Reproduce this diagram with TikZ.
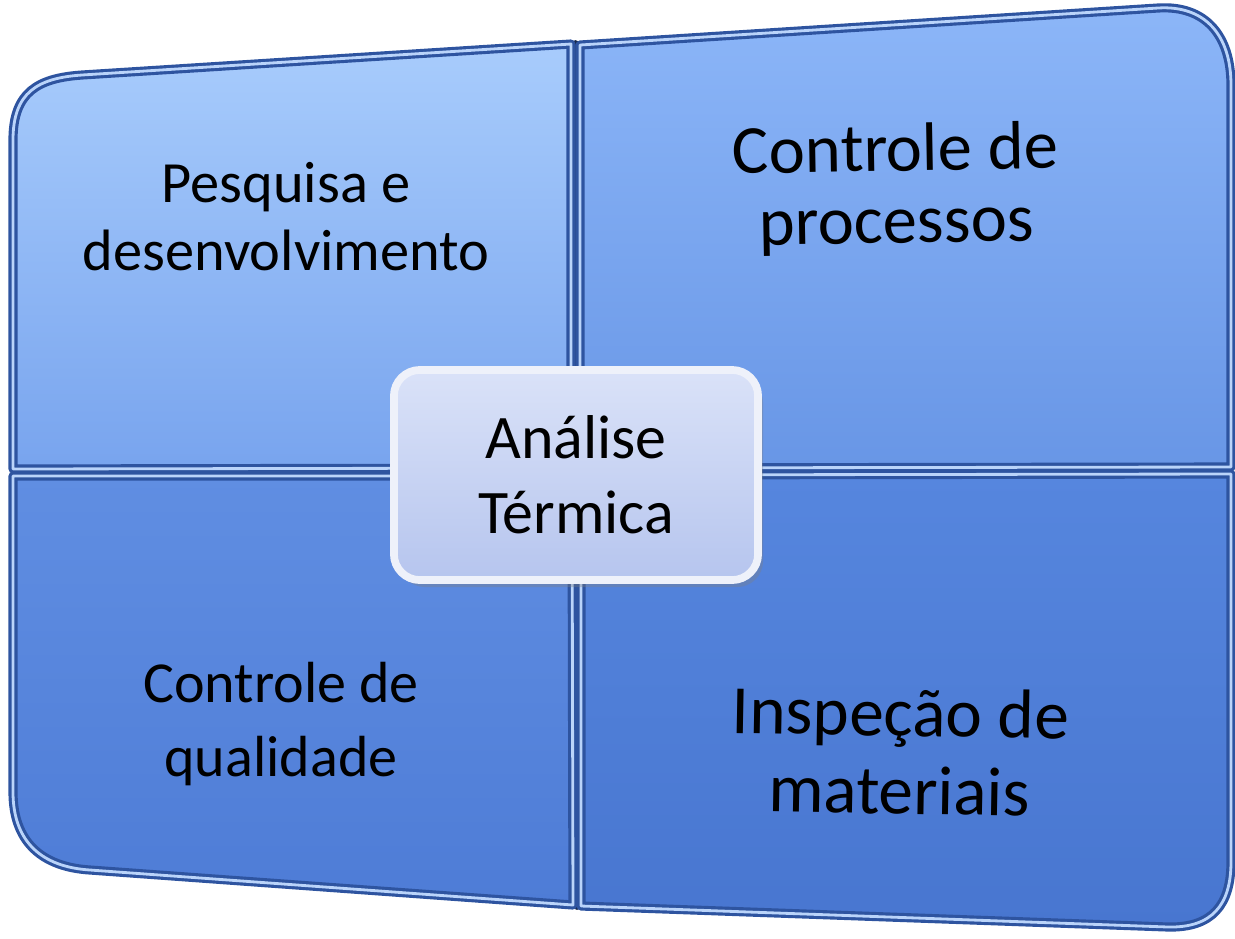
\documentclass[tikz,border=0pt]{standalone}
\usepackage{fontspec}
\setmainfont{Carlito}
\usetikzlibrary{shadows}
\definecolor{vien}{RGB}{46,84,160}
\definecolor{sang}{RGB}{186,212,250}
\definecolor{khe}{RGB}{24,40,74}
\definecolor{nen}{RGB}{82,124,208}
\definecolor{tlA}{RGB}{168,204,252}
\definecolor{tlB}{RGB}{120,164,238}
\definecolor{trA}{RGB}{140,182,248}
\definecolor{trB}{RGB}{104,150,230}
\definecolor{blA}{RGB}{96,142,226}
\definecolor{blB}{RGB}{78,124,214}
\definecolor{brA}{RGB}{86,134,222}
\definecolor{brB}{RGB}{72,118,208}
\definecolor{tamA}{RGB}{218,226,248}
\definecolor{tamB}{RGB}{182,197,238}
\definecolor{tamV}{RGB}{238,241,250}
\begin{document}
\begin{tikzpicture}[x=0.01cm, y=-0.01cm, line join=round, line cap=round,
  manh/.style={draw=vien, double=sang, double distance=0.8pt, line width=0.9pt},
  chu/.style={align=center, inner sep=0pt, text=black, anchor=base},
  tam/.style={draw=tamV, line width=2.2pt, rounded corners=0.26cm,
    top color=tamA, bottom color=tamB,
    minimum width=3.64cm, minimum height=2.1cm, align=center,
    drop shadow={opacity=0.35, shadow xshift=0.5mm, shadow yshift=-0.7mm}}]
\useasboundingbox (0,0) rectangle (1235,938);
% khe giua cac manh
\fill[nen] (13,466) rectangle (1231,478);
\draw[khe, line width=2.2pt] (575.5,44) -- (577,906);
% bon manh
\draw[manh, top color=tlA, bottom color=tlB] (571,44) -- (571,468) -- (13,469)
  -- (13,140) .. controls (13,92) and (38,78) .. (82,75) -- cycle;
\draw[manh, top color=trA, bottom color=trB] (580,45) -- (1158,8)
  .. controls (1205,5) and (1231,35) .. (1231,85) -- (1231,467) -- (580,468) -- cycle;
\draw[manh, top color=blA, bottom color=blB] (13,476) -- (572,476) -- (573,905)
  -- (90,870) .. controls (42,867) and (13,842) .. (13,792) -- cycle;
\draw[manh, top color=brA, bottom color=brB] (581,475) -- (1231,474) -- (1231,862)
  .. controls (1231,905) and (1212,928) .. (1168,927) -- (581,906) -- cycle;
% chu
\node[chu, font=\fontsize{16.6}{19.3}\selectfont] (pesquisa) at (286,270) {Pesquisa e\\desenvolvimento};
\node[chu, font=\fontsize{19.5}{20.5}\selectfont, rotate=1] (processos) at (897,243) {Controle de\\processos};
\node[chu, font=\fontsize{16.5}{20.8}\selectfont] (qualidade) at (281,776) {Controle de\\qualidade};
\node[chu, font=\fontsize{19.7}{22.2}\selectfont, rotate=-1] (materiais) at (899,814) {Inspeção de\\materiais};
\node[tam, font=\fontsize{17.6}{21.3}\selectfont] (analise) at (576,475) {Análise\\Térmica};
\end{tikzpicture}
\end{document}
